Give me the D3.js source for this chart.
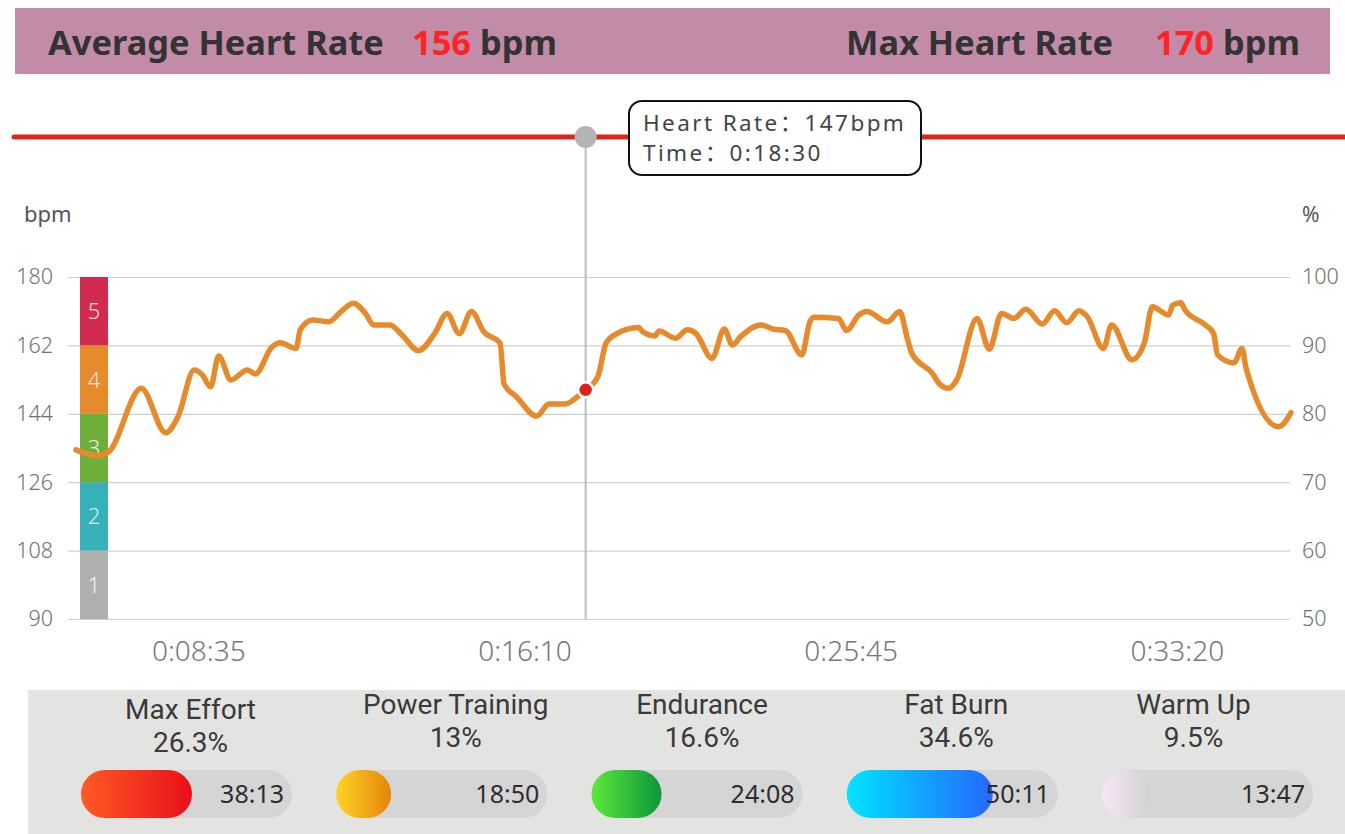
<!DOCTYPE html>
<html>
<head>
<meta charset="utf-8">
<script src="https://cdn.jsdelivr.net/npm/d3@7"></script>
<style>
  html, body { margin: 0; padding: 0; background: #fff; }
  svg { display: block; font-family: "Noto Sans", "Open Sans", sans-serif; }
</style>
</head>
<body>
<svg id="chart" width="1345" height="834"></svg>
<script>
// ---------- DATA ----------
const avgHeartRate = 156;
const maxHeartRate = 170;

// sample index on the category time axis (0..298) and heart rate (bpm)
const sampleIdx = [0, 5, 8, 16, 22, 25, 29, 31, 33, 35, 38, 42, 44, 48, 50, 54, 55, 58, 62, 65,
  68, 71, 73, 77, 80, 84, 88, 91, 94, 97, 100, 104, 105, 108, 113, 116, 120, 123, 125, 128,
  130, 132, 138, 139, 142, 143, 147, 150, 152, 156, 159, 161, 163, 168, 171, 174, 178, 180, 181, 187,
  189, 192, 194, 199, 202, 204, 205, 210, 212, 214, 216, 221, 224, 227, 230, 233, 237, 240, 243, 246,
  248, 252, 254, 259, 262, 264, 268, 269, 271, 272, 277, 279, 280, 284, 286, 287, 295, 298];
const heartRate = [134.5, 133, 134, 150.7, 139, 143.2, 155.5, 154.2, 151.1, 159.2, 152.9, 155.5, 154.5, 161.5, 162.7, 161.2, 166.1, 168.7, 168.2, 170.9,
  173.1, 170.4, 167.4, 167.4, 164.7, 160.6, 165.2, 170.4, 165.1, 170.9, 165.6, 162.6, 151.8, 148.5, 143.4, 146.6, 146.6, 148.5, 150.3, 153.8,
  162.6, 164.7, 166.7, 165.6, 164.5, 165.8, 163.9, 166.1, 165.2, 158.6, 166.3, 162.1, 164.3, 167.4, 166.3, 165.9, 159.5, 168.2, 169.4, 169.1,
  165.9, 170, 170.9, 168.2, 170.9, 163.4, 159.9, 154.7, 151.6, 150.7, 152.9, 169.1, 161, 170.4, 169.1, 171.5, 167.6, 171.1, 168, 171.1,
  169.6, 161.2, 167.4, 158.2, 162.6, 172.2, 170, 172.6, 173.2, 171.3, 167.4, 165.2, 159.5, 157.4, 161.2, 156, 140.6, 144.3];

const xTickIdx = [30, 110, 190, 270];
const xTickLabels = ["0:08:35", "0:16:10", "0:25:45", "0:33:20"];
const bpmTicks = [90, 108, 126, 144, 162, 180];
const pctTicks = [50, 60, 70, 80, 90, 100];

const zoneBounds = [90, 108, 126, 144, 162, 180];
const zoneLabels = ["1", "2", "3", "4", "5"];

const tooltipIdx = 125;
const tooltipHR = 147;
const tooltipTime = "0:18:30";

const zoneNames = ["Max Effort", "Power Training", "Endurance", "Fat Burn", "Warm Up"];
const zonePercents = [26.3, 13, 16.6, 34.6, 9.5];
const zoneTimes = ["38:13", "18:50", "24:08", "50:11", "13:47"];

// ---------- STYLE ----------
const zoneColors = ["#b0b0b0", "#37b0b8", "#6daf3a", "#e68b2c", "#d12c50"];
const cardGradients = [["#ff5a24", "#e8101a"], ["#fdd424", "#e6840c"], ["#5ce93a", "#0a963a"], ["#00e4ff", "#2468ff"], ["#f8e6f6", "#d2d2d2"]];
const titleOffsets = [4, 14, 5, 4, -14];
const titleDy = [5, 0, 0, 0, 0];

const svg = d3.select("#chart");
const defs = svg.append("defs");

// ---------- HEADER ----------
svg.append("rect").attr("x", 15).attr("y", 8).attr("width", 1315).attr("height", 66).attr("fill", "#c28ba7");
const hdr = svg.append("g").attr("font-weight", 700).attr("font-size", 34.4).attr("fill", "#333");
const t1 = hdr.append("text").attr("x", 48).attr("y", 55);
t1.append("tspan").text("Average Heart Rate");
t1.append("tspan").attr("x", 412).attr("fill", "#ff2424").text(avgHeartRate);
t1.append("tspan").text(" bpm");
const t2 = hdr.append("text").attr("x", 846).attr("y", 55);
t2.append("tspan").text("Max Heart Rate");
t2.append("tspan").attr("x", 1155).attr("fill", "#ff2424").text(maxHeartRate);
t2.append("tspan").text(" bpm");

// ---------- SCALES ----------
const x = d3.scaleLinear().domain([0, 298]).range([76, 1291]);
const y = d3.scaleLinear().domain([90, 180]).range([619, 277]);
const yPct = d3.scaleLinear().domain([50, 100]).range([619, 277]);

// grid
svg.append("g").attr("transform", "translate(68,0)")
  .call(d3.axisRight(y).tickValues(bpmTicks).tickSize(1222).tickFormat(""))
  .call(g => g.select(".domain").remove())
  .call(g => g.selectAll("line").attr("stroke", "#cfcfcf").attr("stroke-width", 1.2));

// left axis labels
svg.append("g").attr("transform", "translate(53,0)")
  .call(d3.axisLeft(y).tickValues(bpmTicks).tickSize(0).tickPadding(0))
  .call(g => g.select(".domain").remove())
  .call(g => g.selectAll("text").attr("font-size", 21.5).attr("fill", "#6f6f6f").attr("font-weight", 300).attr("font-family", "'Noto Sans', sans-serif"));

// right axis labels
svg.append("g").attr("transform", "translate(1302,0)")
  .call(d3.axisRight(yPct).tickValues(pctTicks).tickSize(0).tickPadding(0))
  .call(g => g.select(".domain").remove())
  .call(g => g.selectAll("text").attr("font-size", 21.5).attr("fill", "#6f6f6f").attr("font-weight", 300).attr("font-family", "'Noto Sans', sans-serif"));

svg.append("text").attr("x", 24).attr("y", 222).attr("font-size", 22).attr("fill", "#555").text("bpm");
svg.append("text").attr("x", 1302).attr("y", 222).attr("font-size", 21).attr("fill", "#555").text("%");

// x axis labels
svg.append("g").attr("transform", "translate(0,641)")
  .call(d3.axisBottom(x).tickValues(xTickIdx).tickFormat((d, i) => xTickLabels[i]).tickSize(0).tickPadding(0))
  .call(g => g.select(".domain").remove())
  .call(g => g.selectAll("text").attr("font-size", 28).attr("fill", "#777").attr("font-weight", 300).attr("font-family", "'Noto Sans', sans-serif"));

// zone bar
const zones = zoneLabels.map((l, i) => ({ lo: zoneBounds[i], hi: zoneBounds[i + 1], label: l, color: zoneColors[i] }));
const zb = svg.append("g");
zb.selectAll("rect").data(zones).join("rect")
  .attr("x", 80).attr("width", 28)
  .attr("y", d => y(d.hi)).attr("height", d => y(d.lo) - y(d.hi))
  .attr("fill", d => d.color);
zb.selectAll("text").data(zones).join("text")
  .attr("x", 94).attr("y", d => (y(d.lo) + y(d.hi)) / 2 + 8)
  .attr("text-anchor", "middle").attr("font-size", 22).attr("font-weight", 300)
  .attr("fill", "rgba(255,255,255,0.85)").text(d => d.label);

// top red line
svg.append("line").attr("x1", 14).attr("x2", 1345).attr("y1", 137).attr("y2", 137)
  .attr("stroke", "#d8281e").attr("stroke-width", 5).attr("stroke-linecap", "round");

// vertical pointer line
const tx = x(tooltipIdx);
svg.append("line").attr("x1", tx).attr("x2", tx).attr("y1", 137).attr("y2", 619)
  .attr("stroke", "#bdbdbd").attr("stroke-width", 2);
svg.append("circle").attr("cx", tx).attr("cy", 137).attr("r", 11).attr("fill", "#b4b4b4");

// heart-rate line
const pts = sampleIdx.map((s, i) => ({ s, v: heartRate[i] }));
const line = d3.line().x(d => x(d.s)).y(d => y(d.v)).curve(d3.curveMonotoneX);
svg.append("path").datum(pts).attr("d", line)
  .attr("fill", "none").attr("stroke", "#e68a2c").attr("stroke-width", 5.5)
  .attr("stroke-linejoin", "round").attr("stroke-linecap", "round");

// highlighted point
const hp = pts.find(d => d.s === tooltipIdx);
svg.append("circle").attr("cx", x(hp.s)).attr("cy", y(hp.v)).attr("r", 7.5)
  .attr("fill", "#d8221c").attr("stroke", "#fff").attr("stroke-width", 2.5);

// tooltip
const tt = svg.append("g").attr("font-family", "'Noto Sans', 'Noto Sans CJK SC', sans-serif");
tt.append("rect").attr("x", 629).attr("y", 101).attr("width", 292).attr("height", 74).attr("rx", 13)
  .attr("fill", "#fff").attr("stroke", "#111").attr("stroke-width", 2);
tt.append("text").attr("x", 643).attr("y", 131).attr("font-size", 22.5).attr("fill", "#444").attr("letter-spacing", 2.4)
  .text("Heart Rate\uFF1A" + tooltipHR + "bpm");
tt.append("text").attr("x", 643).attr("y", 161).attr("font-size", 22.5).attr("fill", "#444").attr("letter-spacing", 2.4)
  .text("Time\uFF1A" + tooltipTime);

// ---------- BOTTOM CARDS ----------
svg.append("rect").attr("x", 28).attr("y", 690).attr("width", 1317).attr("height", 144).attr("fill", "#e3e3e2");

const trackW = 211, trackH = 48, trackX0 = 81, trackStep = 255.25, trackY = 770;
const fillScale = d3.scaleLinear().domain([0, 50]).range([0, trackW]);

cardGradients.forEach((c, i) => {
  const lg = defs.append("linearGradient").attr("id", "g" + i).attr("x1", "0%").attr("x2", "100%").attr("y1", "0%").attr("y2", "0%");
  lg.append("stop").attr("offset", "0%").attr("stop-color", c[0]);
  lg.append("stop").attr("offset", "100%").attr("stop-color", c[1]);
});

const cards = svg.append("g").selectAll("g").data(zoneNames).join("g")
  .attr("transform", (d, i) => `translate(${trackX0 + i * trackStep},0)`);

cards.append("text").attr("x", (d, i) => trackW / 2 + titleOffsets[i]).attr("y", (d, i) => 714 + titleDy[i])
  .attr("text-anchor", "middle").attr("font-family", "Roboto, sans-serif").attr("font-size", 28).attr("fill", "#3a3a3a").text(d => d);
cards.append("text").attr("x", (d, i) => trackW / 2 + titleOffsets[i]).attr("y", (d, i) => 747 + titleDy[i])
  .attr("text-anchor", "middle").attr("font-family", "Roboto, sans-serif").attr("font-size", 28).attr("fill", "#3a3a3a")
  .text((d, i) => zonePercents[i] + "%");
cards.append("rect").attr("x", 0).attr("y", trackY).attr("width", trackW).attr("height", trackH)
  .attr("rx", trackH / 2).attr("fill", "#d5d5d5");
cards.append("rect").attr("x", 0).attr("y", trackY).attr("height", trackH)
  .attr("width", (d, i) => Math.max(trackH, fillScale(zonePercents[i])))
  .attr("rx", trackH / 2).attr("fill", (d, i) => `url(#g${i})`);
cards.append("text").attr("x", trackW - 8).attr("y", trackY + 33)
  .attr("text-anchor", "end").attr("font-size", 25).attr("fill", "#2d2d2d").text((d, i) => zoneTimes[i]);
</script>
</body>
</html>
